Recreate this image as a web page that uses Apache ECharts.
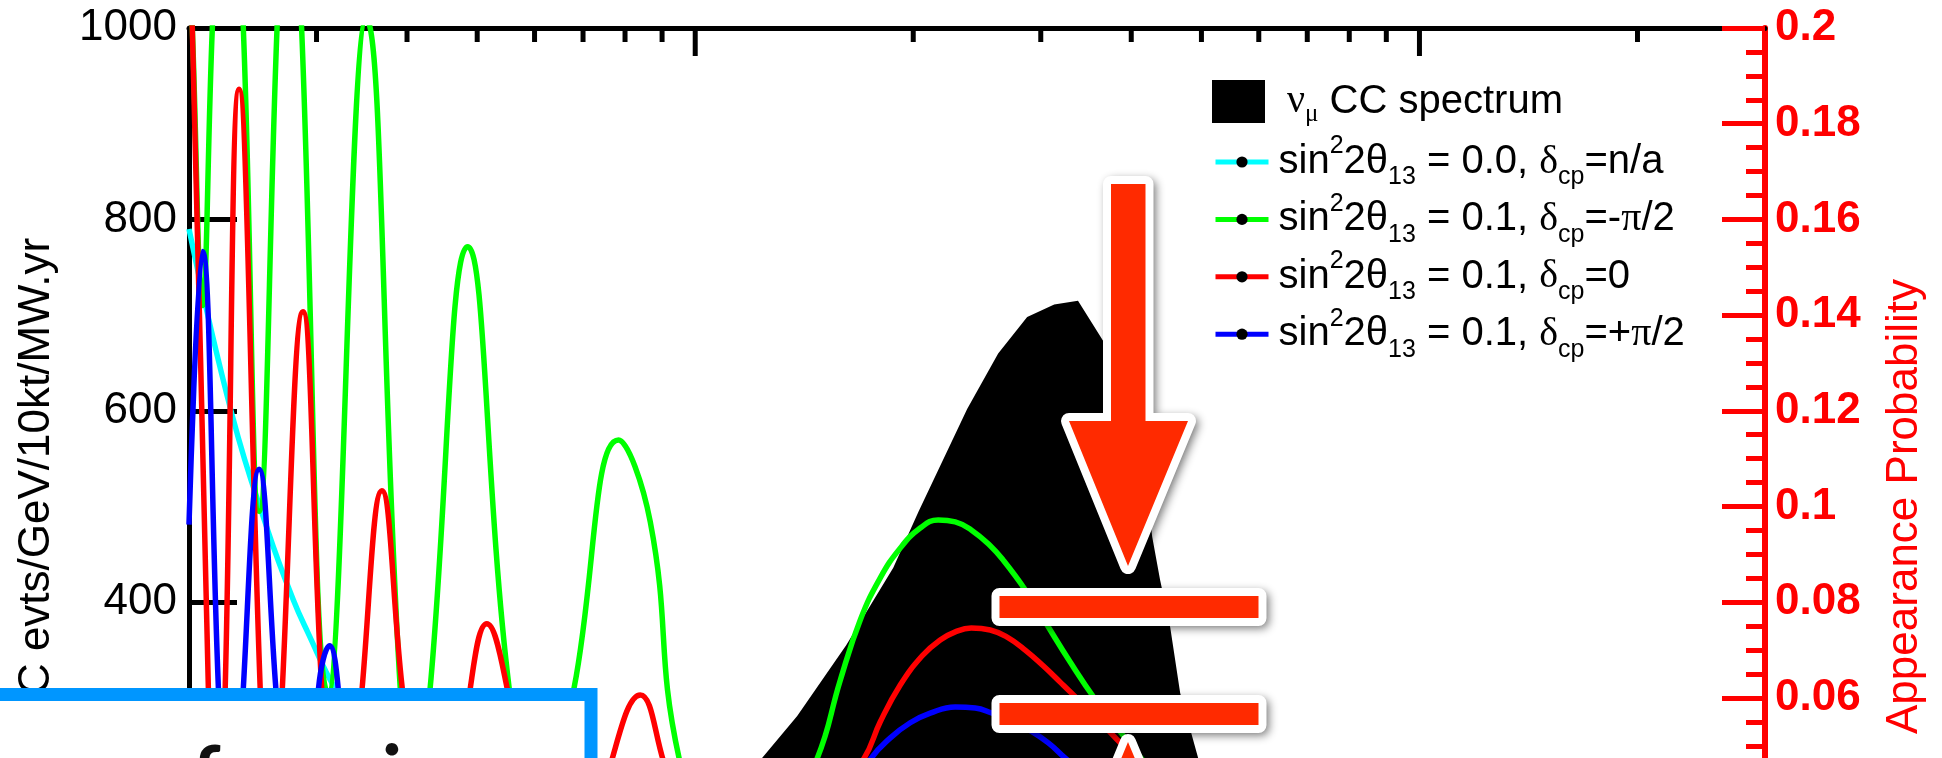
<!DOCTYPE html>
<html>
<head>
<meta charset="utf-8">
<script src="https://cdn.jsdelivr.net/npm/echarts@6/dist/echarts.min.js"></script>
<style>
html,body{margin:0;padding:0;overflow:hidden;background:#fff;}
#c{width:1942px;height:1100px;}
</style>
</head>
<body>
<div id="c"></div>
<script>
// ---- axis ticks (energy, GeV, log axis) ----
const xTickValues = [0.3,0.4,0.5,0.6,0.7,0.8,0.9,1,2,3,4,5,6,7,8,9,10,20];
const xMajorTicks = [1,10];

// ---- nu_mu CC spectrum (left axis, evts/GeV/10kt/MW.yr) ----
const specE   = [0.2,0.4,0.6,0.8,1.0,1.236,1.383,1.616,1.877,2.032,2.374,2.62,2.873,3.131,3.377,3.659,3.863,4.051,4.182,4.276,4.385,4.527,4.673,4.949,5.5,6,7,8,10,15,20,30];
const specVal = [0,10,40,90,160,237,281,355,436,494,602,660,698,711,715,673,632,580,528,468,423,374,305,237,170,120,80,60,40,20,10,5];

// ---- appearance probabilities (right axis) ----
const cyanE = [0.2,0.2295,0.2573,0.2786,0.2922,0.3184,0.36,0.4,0.5,0.7,1,2,5,30];
const cyanP = [0.158,0.119,0.0947,0.0805,0.0735,0.0619,0.05,0.04,0.028,0.015,0.008,0.002,0.0004,0.0];

const greenE = [0.2,0.2021,0.2087,0.2154,0.226,0.2377,0.25,0.2646,0.275,0.2861,0.3113,0.3513,0.3915,0.4106,0.4305,0.4851,0.5535,0.6109,0.6802,0.7837,0.8668,0.95,1.15,
  1.474,1.586,1.69,1.801,1.919,2.045,2.165,2.286,2.405,2.555,2.662,2.855,3.042,3.294,3.578,3.863,4.129,5,6,8,10,15,20,30];
const greenP = [0.215,0.2,0.142,0.2,0.27,0.2,0.099,0.2,0.26,0.2,0.061,0.2018,0.062,0.035,0.062,0.1543,0.062,0.03,0.062,0.1139,0.0968,0.0474,0.012,
  0.0474,0.0637,0.0763,0.0851,0.0913,0.0955,0.0972,0.0968,0.0951,0.0918,0.0888,0.0826,0.0759,0.0675,0.0594,0.0529,0.0474,0.033,0.024,0.014,0.009,0.004,0.0025,0.001];

const redE = [0.2,0.2021,0.2127,0.2185,0.2244,0.2345,0.2508,0.2598,0.2691,0.2873,0.305,0.3235,0.3468,0.3693,0.394,0.4387,0.4891,0.5155,0.55,0.65,0.767,0.8397,0.903,1.1,
  1.711,1.801,1.919,2.058,2.179,2.286,2.405,2.555,2.696,2.855,3.023,3.191,3.391,3.624,3.887,4.116,5,6,8,10,15,20,30];
const redP = [0.205,0.2,0.062,0.005,0.062,0.1872,0.062,0.005,0.062,0.1407,0.062,0.005,0.062,0.1033,0.062,0.004,0.062,0.0755,0.062,0.003,0.047,0.0606,0.047,0.002,
  0.0474,0.055,0.0627,0.0688,0.0721,0.0738,0.0746,0.0742,0.0727,0.07,0.0667,0.0633,0.0594,0.055,0.0502,0.0466,0.032,0.024,0.014,0.009,0.004,0.0025,0.001];

const blueE = [0.2,0.2087,0.2196,0.2287,0.2377,0.25,0.2636,0.2822,0.3019,0.3128,0.3214,0.345,0.38,0.43,0.5,0.6,0.8,1.1,
  1.75,1.858,1.981,2.111,2.286,2.436,2.571,2.723,2.891,3.073,3.243,4,5,6,8,10,20,30];
const blueP = [0.0962,0.1533,0.062,0.005,0.062,0.1078,0.062,0.004,0.062,0.0709,0.062,0.003,0.045,0.002,0.038,0.002,0.035,0.002,
  0.0474,0.0516,0.0548,0.0568,0.0581,0.0579,0.0568,0.0554,0.0533,0.0506,0.0474,0.036,0.027,0.02,0.012,0.008,0.002,0.001];

const specName = 'νμ CC spectrum';
const lineNames = ['sin22θ13 = 0.0, δcp=n/a','sin22θ13 = 0.1, δcp=-π/2','sin22θ13 = 0.1, δcp=0','sin22θ13 = 0.1, δcp=+π/2'];
const lineLabels = [
  '{n0|sin}{sup|2}{n|2θ}{sub|13}{n| = 0.0, }{g|δ}{sub|cp}{n|=n/a}',
  '{n0|sin}{sup|2}{n|2θ}{sub|13}{n| = 0.1, }{g|δ}{sub|cp}{n|=-}{g|π}{n|/2}',
  '{n0|sin}{sup|2}{n|2θ}{sub|13}{n| = 0.1, }{g|δ}{sub|cp}{n|=0}',
  '{n0|sin}{sup|2}{n|2θ}{sub|13}{n| = 0.1, }{g|δ}{sub|cp}{n|=+}{g|π}{n|/2}'
];
const lineColors = ['#00ffff','#00ff00','#ff0000','#0000ff'];
const lineE = [cyanE, greenE, redE, blueE];
const lineP = [cyanP, greenP, redP, blueP];

const zip = (a, b) => a.map((v, i) => [v, b[i]]);

const chart = echarts.init(document.getElementById('c'), null, {renderer: 'canvas'});

const SANS = 'Liberation Sans, Arial, Helvetica, sans-serif';
const SERIF = 'Liberation Serif, Times New Roman, serif';

const legendRich = {
  n0: {fontSize: 40, fontFamily: SANS, color: '#000', lineHeight: 56, padding: [0,0,0,5]},
  n:  {fontSize: 40, fontFamily: SANS, color: '#000', lineHeight: 56},
  g:  {fontSize: 40, fontFamily: SERIF, color: '#000', lineHeight: 56},
  sup:{fontSize: 25, fontFamily: SANS, color: '#000', verticalAlign: 'top'},
  sub:{fontSize: 25, fontFamily: SANS, color: '#000', verticalAlign: 'bottom'}
};
const specRich = {
  g:  {fontSize: 40, fontFamily: SERIF, color: '#000', lineHeight: 50, padding: [0,0,0,17]},
  sub:{fontSize: 25, fontFamily: SERIF, color: '#000', verticalAlign: 'bottom'},
  n:  {fontSize: 40, fontFamily: SANS, color: '#000', lineHeight: 50}
};

const series = [
  {
    name: specName, type: 'line', xAxisIndex: 0, yAxisIndex: 0,
    data: zip(specE, specVal), symbol: 'none', showSymbol: false, silent: true,
    lineStyle: {width: 0, color: '#000'}, itemStyle: {color: '#000'},
    areaStyle: {color: '#000', opacity: 1}, z: 2
  }
];
lineNames.forEach((nm, i) => {
  series.push({
    name: nm, type: 'line', xAxisIndex: 0, yAxisIndex: 1,
    data: zip(lineE[i], lineP[i]),
    smooth: 0.45,
    symbol: 'circle', showSymbol: false, silent: true,
    color: lineColors[i],
    lineStyle: {width: 5.5, color: lineColors[i]},
    itemStyle: {color: lineColors[i]},
    z: 3 + i
  });
});
series.push({
  type: 'custom', xAxisIndex: 0, yAxisIndex: 0, silent: true, z: 10,
  data: xTickValues.map(v => [v, 1000]),
  renderItem: function (params, api) {
    const v = api.value(0);
    const p = api.coord([v, 1000]);
    const len = xMajorTicks.indexOf(v) >= 0 ? 28 : 14;
    return {type: 'line', shape: {x1: p[0], y1: p[1], x2: p[0], y2: p[1] + len},
            style: {stroke: '#000', lineWidth: 5}};
  }
});

const RED = '#ff2a00';
const shadowStyle = {fill: '#fff', stroke: '#fff', lineWidth: 16, lineJoin: 'round',
  shadowBlur: 9, shadowColor: 'rgba(0,0,0,0.45)', shadowOffsetX: 3, shadowOffsetY: 3};
const downArrow = [[1111,184],[1145.5,184],[1145.5,421],[1188,421],[1128,566],[1069,421],[1111,421]];
const upArrow = [[1128,742],[1188,885],[1145.5,885],[1145.5,1080],[1111,1080],[1111,885],[1069,885]];
const bar1 = {x: 999.5, y: 596, width: 259, height: 22};
const bar2 = {x: 999.5, y: 703, width: 259, height: 22};

const option = {
  animation: false,
  backgroundColor: '#fff',
  grid: {left: 189, top: 28, width: 1576, height: 957, outerBoundsMode: 'none', containLabel: false},
  xAxis: {
    type: 'log', logBase: 10, min: 0.2, max: 30, position: 'top',
    axisLine: {onZero: false, lineStyle: {color: '#000', width: 5}},
    axisTick: {show: false}, axisLabel: {show: false}, splitLine: {show: false}
  },
  yAxis: [
    {
      type: 'value', min: 0, max: 1000, interval: 200, position: 'left',
      axisLine: {show: true, onZero: false, lineStyle: {color: '#000', width: 5}},
      axisTick: {show: true, inside: true, length: 48, lineStyle: {color: '#000', width: 5}},
      axisLabel: {color: '#000', fontSize: 44, fontFamily: SANS, margin: 12, formatter: v => String(v)},
      splitLine: {show: false},
      name: '{g|ν}{s|μ}{n| CC evts/GeV/10kt/MW.yr}',
      nameLocation: 'middle', nameRotate: 90, nameGap: 127, nameMoveOverlap: false,
      nameTextStyle: {color: '#000', fontSize: 44, fontFamily: SANS,
        rich: {g: {fontSize: 44, fontFamily: SERIF, color: '#000', lineHeight: 50},
               s: {fontSize: 30, fontFamily: SERIF, color: '#000', verticalAlign: 'bottom'},
               n: {fontSize: 44, fontFamily: SANS, color: '#000', lineHeight: 50}}}
    },
    {
      type: 'value', min: 0, max: 0.2, interval: 0.02, position: 'right',
      axisLine: {show: true, onZero: false, lineStyle: {color: '#ff0000', width: 6}},
      axisTick: {show: true, inside: true, length: 43, lineStyle: {color: '#ff0000', width: 5}},
      minorTick: {show: true, splitNumber: 4, length: 19, lineStyle: {color: '#ff0000', width: 5}},
      axisLabel: {color: '#ff0000', fontSize: 44, fontWeight: 'bold', fontFamily: SANS, margin: 10},
      splitLine: {show: false}, minorSplitLine: {show: false},
      name: 'Appearance Probability',
      nameLocation: 'middle', nameRotate: 90, nameGap: 118, nameMoveOverlap: false,
      nameTextStyle: {color: '#ff0000', fontSize: 44, fontFamily: SANS}
    }
  ],
  legend: [
    {
      data: [{name: specName, icon: 'rect', itemStyle: {color: '#000'}}],
      orient: 'vertical', left: 1212, top: 80, padding: 0,
      itemWidth: 53, itemHeight: 43, selectedMode: false,
      formatter: () => '{g|ν}{sub|μ}{n| CC spectrum}',
      textStyle: {color: '#000', fontSize: 40, fontFamily: SANS, rich: specRich}
    },
    {
      data: lineNames.map(n => ({name: n, itemStyle: {color: '#000', borderWidth: 0}})),
      orient: 'vertical', left: 1213, top: 134, padding: 0, itemGap: 1.4,
      itemWidth: 53, itemHeight: 14, selectedMode: false,
      lineStyle: {width: 5},
      formatter: (name) => lineLabels[lineNames.indexOf(name)],
      textStyle: {color: '#000', fontSize: 40, fontFamily: SANS, rich: legendRich}
    }
  ],
  graphic: [
    {type: 'polygon', z: 100, silent: true, shape: {points: downArrow}, style: shadowStyle},
    {type: 'polygon', z: 101, silent: true, shape: {points: downArrow}, style: {fill: RED}},
    {type: 'rect', z: 100, silent: true, shape: bar1, style: shadowStyle},
    {type: 'rect', z: 101, silent: true, shape: bar1, style: {fill: RED}},
    {type: 'rect', z: 100, silent: true, shape: bar2, style: shadowStyle},
    {type: 'rect', z: 101, silent: true, shape: bar2, style: {fill: RED}},
    {type: 'polygon', z: 100, silent: true, shape: {points: upArrow}, style: shadowStyle},
    {type: 'polygon', z: 101, silent: true, shape: {points: upArrow}, style: {fill: RED}},
    {
      type: 'rect', z: 110, silent: true,
      shape: {x: -20, y: 694.5, width: 611, height: 400},
      style: {fill: '#fff', stroke: '#0096ff', lineWidth: 13}
    },
    {
      type: 'text', z: 111, silent: true, x: 192, y: 817,
      style: {text: 'for minor', font: 'bold 80px Lato, Open Sans, sans-serif', fill: '#111', verticalAlign: 'bottom', align: 'left'}
    }
  ],
  series: series
};
chart.setOption(option);
</script>
</body>
</html>
